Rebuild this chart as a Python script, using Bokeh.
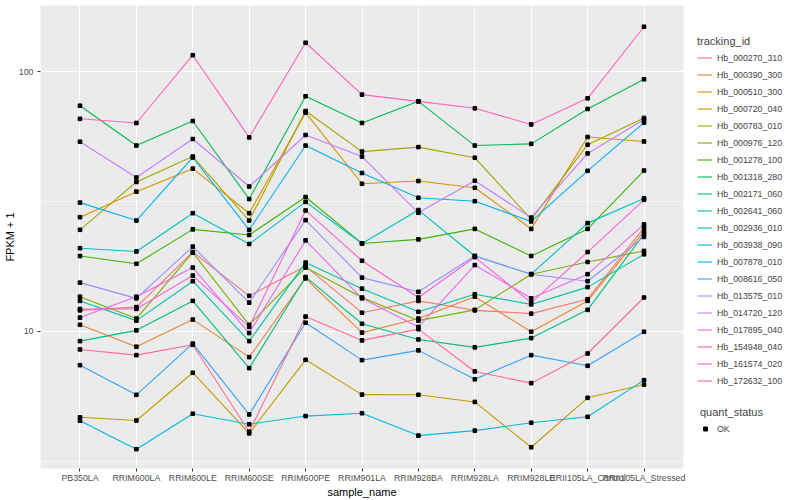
from bokeh.plotting import figure
from bokeh.layouts import row
from bokeh.models import (ColumnDataSource, FactorRange, Range1d, FixedTicker,
                          Legend, LegendItem, BasicTickFormatter)
from bokeh.embed import file_html
from bokeh.resources import INLINE

samples = ["PB350LA", "RRIM600LA", "RRIM600LE", "RRIM600SE", "RRIM600PE",
           "RRIM901LA", "RRIM928BA", "RRIM928LA", "RRIM928LE",
           "RRII105LA_Control", "RRII105LA_Stressed"]

tracking_ids = ["Hb_000270_310", "Hb_000390_300", "Hb_000510_300", "Hb_000720_040",
                "Hb_000783_010", "Hb_000976_120", "Hb_001278_100", "Hb_001318_280",
                "Hb_002171_060", "Hb_002641_060", "Hb_002936_010", "Hb_003938_090",
                "Hb_007878_010", "Hb_008616_050", "Hb_013575_010", "Hb_014720_120",
                "Hb_017895_040", "Hb_154948_040", "Hb_161574_020", "Hb_172632_100"]

colors = ["#F8766D", "#EA8331", "#D89000", "#C09B00", "#A3A500", "#7CAE00", "#39B600",
          "#00BB4E", "#00BF7D", "#00C1A3", "#00BFC4", "#00BAE0", "#00B0F6", "#35A2FF",
          "#9590FF", "#C77CFF", "#E76BF3", "#FA62DB", "#FF62BC", "#FF6C91"]

# FPKM + 1 values, one list per tracking_id, in sample order
hb_000270_310 = [12.05, 12.4, 20.2, 13.7, 17.8, 11.8, 13.1, 12.05, 11.7, 13.3, 25.1]
hb_000390_300 = [10.6, 8.73, 11.1, 7.96, 16.0, 9.89, 11.2, 13.6, 9.97, 13.1, 24.3]
hb_000510_300 = [27.5, 34.5, 42.3, 28.5, 69.5, 37.0, 37.9, 35.7, 24.8, 56.0, 53.8]
hb_000720_040 = [4.67, 4.54, 6.93, 4.05, 7.77, 5.71, 5.70, 5.35, 3.58, 5.55, 6.24]
hb_000783_010 = [24.6, 37.6, 47.1, 26.7, 70.5, 49.2, 51.2, 46.6, 27.0, 52.3, 66.3]
hb_000976_120 = [13.6, 11.2, 20.1, 10.6, 17.6, 13.5, 11.0, 12.1, 16.6, 18.5, 20.4]
hb_001278_100 = [19.5, 18.2, 24.7, 23.5, 32.9, 21.8, 22.6, 24.8, 19.5, 24.8, 41.6]
hb_001318_280 = [73.9, 51.9, 64.5, 32.3, 80.3, 63.4, 76.8, 51.9, 52.7, 71.8, 93.4]
hb_002171_060 = [9.17, 10.09, 13.1, 7.22, 16.2, 10.7, 9.31, 8.68, 9.42, 12.1, 23.7]
hb_002641_060 = [13.1, 11.0, 15.6, 9.17, 18.4, 14.6, 11.9, 13.9, 12.7, 14.8, 19.8]
hb_002936_010 = [20.9, 20.3, 28.5, 21.7, 31.5, 21.8, 29.3, 19.5, 16.6, 26.1, 32.5]
hb_003938_090 = [4.53, 3.52, 4.82, 4.39, 4.72, 4.84, 3.97, 4.15, 4.45, 4.69, 6.49]
hb_007878_010 = [31.3, 26.7, 46.7, 24.6, 51.9, 40.7, 32.7, 31.7, 26.5, 41.5, 63.6]
hb_008616_050 = [7.41, 5.70, 8.97, 4.79, 10.8, 7.75, 8.45, 6.54, 8.10, 7.37, 9.97]
hb_013575_010 = [15.4, 13.4, 21.2, 12.9, 26.8, 16.1, 14.2, 19.5, 16.6, 15.6, 23.1]
hb_014720_120 = [53.7, 39.1, 55.0, 36.1, 57.0, 47.1, 28.6, 38.0, 27.4, 48.4, 65.4]
hb_017895_040 = [11.3, 13.6, 17.6, 9.85, 22.4, 13.4, 10.4, 18.0, 13.4, 16.6, 25.8]
hb_154948_040 = [12.2, 12.2, 16.4, 10.4, 29.2, 18.7, 13.5, 19.3, 12.9, 20.2, 32.1]
hb_161574_020 = [65.8, 63.4, 115.6, 55.8, 129.1, 81.5, 76.8, 72.2, 62.6, 78.9, 148.8]
hb_172632_100 = [8.52, 8.10, 8.88, 4.11, 11.4, 9.23, 10.2, 7.01, 6.32, 8.22, 13.5]

series_values = [hb_000270_310, hb_000390_300, hb_000510_300, hb_000720_040,
                 hb_000783_010, hb_000976_120, hb_001278_100, hb_001318_280,
                 hb_002171_060, hb_002641_060, hb_002936_010, hb_003938_090,
                 hb_007878_010, hb_008616_050, hb_013575_010, hb_014720_120,
                 hb_017895_040, hb_154948_040, hb_161574_020, hb_172632_100]

quant_status = ["OK"]

FONT = "Liberation Sans"

p = figure(width=694, height=500,
           x_range=FactorRange(factors=samples, range_padding=0.2,
                               range_padding_units="absolute"),
           y_range=Range1d(2.966, 179.6), y_axis_type="log",
           output_backend="svg", toolbar_location=None,
           min_border_left=40, min_border_right=11,
           min_border_top=5, min_border_bottom=32)

p.background_fill_color = "#EBEBEB"
p.border_fill_color = "white"
p.outline_line_color = None

p.yaxis.ticker = FixedTicker(ticks=[10, 100], minor_ticks=[3.1623, 31.623, 316.23])
p.yaxis.formatter = BasicTickFormatter(use_scientific=False)

p.grid.grid_line_color = "white"
p.grid.grid_line_width = 1.1
p.ygrid.minor_grid_line_color = "white"
p.ygrid.minor_grid_line_width = 0.55

p.axis.axis_line_color = None
p.axis.major_tick_line_color = "#333333"
p.axis.major_tick_in = 0
p.axis.major_tick_out = 3
p.axis.minor_tick_line_color = None
p.axis.major_label_text_color = "#4D4D4D"
p.axis.major_label_text_font_size = "8.8px"
p.axis.major_label_text_font = FONT
p.xaxis.major_label_standoff = 1
p.yaxis.major_label_standoff = 3
p.axis.axis_label_text_font_size = "11px"
p.axis.axis_label_text_font_style = "normal"
p.axis.axis_label_text_font = FONT
p.axis.axis_label_text_color = "black"
p.axis.axis_label_standoff = 0
p.xaxis.axis_label = "sample_name"
p.yaxis.axis_label = "FPKM + 1"

for tid, col, vals in zip(tracking_ids, colors, series_values):
    src = ColumnDataSource(dict(x=samples, y=vals))
    p.line("x", "y", source=src, line_color=col, line_width=1.1)

all_x = [s for vals in series_values for s in samples]
all_y = [v for vals in series_values for v in vals]
p.scatter(x=all_x, y=all_y, marker="square", size=3.6,
          fill_color="black", line_color="black")

# legend panel: a separate figure whose view range hides its proxy glyphs,
# so only the legends drawn from them are visible beside the plot panel
lf = figure(width=106, height=500, output_backend="svg", toolbar_location=None,
            x_range=FactorRange(factors=samples), y_range=Range1d(-2, -1),
            x_axis_location=None, y_axis_location=None, min_border=0)
lf.grid.visible = False
lf.outline_line_color = None
lf.background_fill_color = "white"

items = []
for tid, col, vals in zip(tracking_ids, colors, series_values):
    r = lf.line(x=samples, y=vals, line_color=col, line_width=1.1)
    items.append(LegendItem(label=tid, renderers=[r]))
ok_r = lf.scatter(x=all_x, y=all_y, marker="square", size=3.6,
                  fill_color="black", line_color="black")

common = dict(title_text_font_size="11px", title_text_font_style="normal",
              title_text_font=FONT, title_standoff=2,
              label_text_font_size="8.8px", label_text_font=FONT,
              glyph_height=17, label_height=17,
              spacing=0, padding=0, margin=0, border_line_color=None,
              background_fill_alpha=0)

leg1 = Legend(items=items, title="tracking_id", location=(3, 79),
              glyph_width=15, label_standoff=5, **common)
leg2 = Legend(items=[LegendItem(label=quant_status[0], renderers=[ok_r])],
              title="quant_status", location=(6, 31),
              glyph_width=10, label_standoff=7, **common)
lf.add_layout(leg1)
lf.add_layout(leg2)

layout = row(p, lf)
open("out.html", "w").write(file_html(layout, INLINE))
